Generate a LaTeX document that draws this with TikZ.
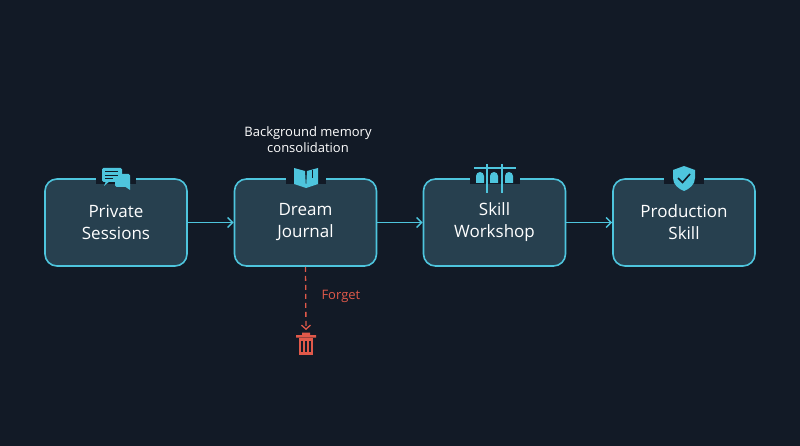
\documentclass[tikz,border=0pt]{standalone}
\usepackage{fontspec}
\setmainfont{Open Sans}
\usetikzlibrary{positioning,arrows.meta}
\definecolor{bgc}{HTML}{121A26}
\definecolor{boxfill}{HTML}{27404F}
\definecolor{cyanc}{HTML}{4EC5DD}
\definecolor{redc}{HTML}{E0594A}
\tikzset{
  stage/.style={rectangle, rounded corners=12pt, minimum width=142pt, minimum height=87pt,
    fill=boxfill, draw=cyanc, line width=1.6pt, text=white, align=center,
    font=\fontsize{17}{22}\selectfont, inner sep=0pt},
  flow/.style={draw=cyanc, line width=1.4pt, -{Straight Barb[length=5pt,width=10pt]}},
  gap/.style={fill=bgc, draw=none},
  icon/.style={fill=cyanc, draw=none}
}
\begin{document}
\begin{tikzpicture}[x=1pt,y=-1pt]
\useasboundingbox[fill=bgc] (0,0) rectangle (800,446);
\node (private) [stage] at (116,222.5) {Private\\Sessions};
\node (journal) [stage] at (305.5,222.5) {Dream\\Journal};
\node (workshop) [stage] at (494.5,222.5) {Skill\\Workshop};
\node (production) [stage] at (684,222.5) {Production\\Skill};
\draw [flow] (private) -- (journal);
\draw [flow] (journal) -- (workshop);
\draw [flow] (workshop) -- (production);
\node (note) [text=white, align=center, font=\fontsize{13}{16}\selectfont] at (308,140) {Background memory\\consolidation};
% icon gaps
\fill [gap] (96,175) rectangle (136,184);
\fill [gap] (286,175) rectangle (326,184);
\fill [gap] (470,175) rectangle (520,184);
\fill [gap] (664,175) rectangle (704,184);
% chat icon
\fill [icon, rounded corners=1.5pt] (102,168) rectangle (122,182);
\fill [icon] (106,181) -- (110,181) -- (104,186) -- cycle;
\fill [icon, rounded corners=1.5pt] (115,174) rectangle (130,187);
\fill [icon] (124,186) -- (130,186) -- (130,190) -- cycle;
\draw [bgc, line width=1pt] (105,172) -- (118,172) (105,175.5) -- (118,175.5) (105,179) -- (113,179);
% book icon
\fill [icon] (306,188) -- (294,184) -- (294,168) -- (305,171) -- cycle;
\fill [icon] (306,188) -- (318,184) -- (318,168) -- (307,171) -- cycle;
\draw [bgc, line width=0.8pt] (312,170) -- (312,178);
% workshop icon
\draw [cyanc, line width=1.2pt] (474,168) -- (516,168) (487,164) -- (487,193) (502,164) -- (502,193);
\foreach \gx in {480,494,509} {
  \fill [icon] (\gx-4,183) -- (\gx-4,176) arc[start angle=180,end angle=0,radius=4pt] -- (\gx+4,183) -- cycle;
}
% shield icon
\fill [icon] (684,166) -- (695,170) -- (695,178) .. controls (695,185) and (689,189) .. (684,191)
  .. controls (679,189) and (673,185) .. (673,178) -- (673,170) -- cycle;
\draw [bgc, line width=1.6pt] (678,178) -- (682.5,182.5) -- (690,174);
% forget branch
\coordinate (bin) at (306,330);
\draw [redc, line width=1.3pt, dash pattern=on 5pt off 4pt, -{Straight Barb[length=4pt,width=9pt]}] (journal.south) -- (bin);
\node (forget) [text=redc, font=\fontsize{13}{16}\selectfont, anchor=west] at (318,296) {Forget};
\node (trash) [fill=redc, minimum width=14pt, minimum height=17pt, inner sep=0pt] at (306,346) {};
\fill [redc] (296,335) rectangle (316,337.5) (302,332.5) rectangle (310,335);
\draw [bgc, line width=1.2pt] (302,341) -- (302,352) (306,341) -- (306,352) (310,341) -- (310,352);
\end{tikzpicture}
\end{document}
